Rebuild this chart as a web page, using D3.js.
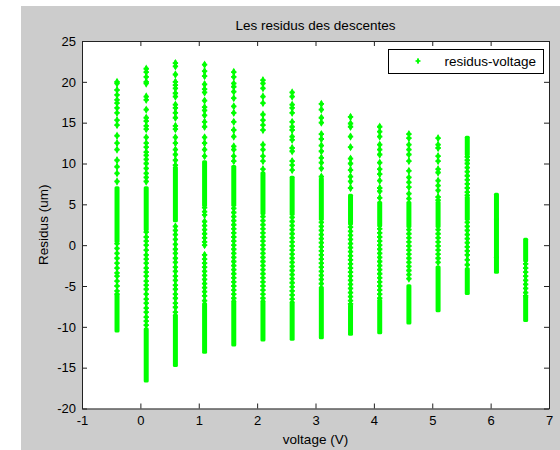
<!DOCTYPE html>
<html>
<head>
<meta charset="utf-8">
<script src="https://cdn.jsdelivr.net/npm/d3@7"></script>
<style>
  body { margin: 0; background: #fff; }
  text { font-family: "Liberation Sans", Arial, sans-serif; fill: #000; }
</style>
</head>
<body>
<div id="svg"></div>
<script>
// one column of residus per voltage step
const voltages = [-0.4, 0.1, 0.6, 1.1, 1.6, 2.1, 2.6, 3.1, 3.6, 4.1, 4.6, 5.1, 5.6, 6.1, 6.6]

// isolated points
const residusPoints = [
  [20.0, 19.8, 19.0, 18.4, 17.8, 17.4, 16.8, 16.2, 15.3, 14.7, 13.4, 12.5, 11.7, 10.4, 9.6, 8.8, 7.8,
   0.2, -0.4, -1.0, -1.6, -2.2, -2.8, -3.4, -3.8, -4.4, -5.0, -5.6, -6.0],
  [21.6, 21.2, 20.6, 20.0, 19.8, 18.2, 17.8, 16.6, 15.6, 15.2, 14.6, 14.2, 13.2, 12.5, 12.0, 11.4, 11.0, 10.5, 10.0, 9.4, 8.8, 8.3, 7.8,
   1.6, 1.0, 0.5, 0.0, -0.6, -1.2, -1.7, -2.2, -2.8, -3.3, -3.8, -4.4, -4.9, -5.4, -6.0, -6.6, -7.1, -7.7, -8.2, -8.8, -9.3, -9.8],
  [22.3, 21.9, 20.9, 20.0, 19.6, 19.2, 18.6, 18.2, 17.2, 16.8, 16.2, 15.6, 14.6, 14.2, 13.2, 12.5, 11.7, 11.1, 10.4, 9.8,
   2.3, 1.8, 1.3, 0.7, 0.1, -0.5, -1.0, -1.6, -2.1, -2.7, -3.2, -3.8, -4.3, -4.9, -5.4, -6.0, -6.5, -7.1, -7.6, -8.2],
  [22.1, 21.3, 20.7, 19.7, 19.1, 18.7, 17.7, 16.9, 16.5, 15.9, 15.1, 14.5, 13.2, 12.5, 11.7, 10.9,
   4.6, 4.1, 3.7, 2.9, 2.4, 1.9, 1.4, 0.9, 0.4, 0.0, -1.2, -1.7, -2.2, -2.7, -3.2, -3.7, -4.2, -4.7, -5.2, -5.7, -6.2, -6.8],
  [21.2, 20.6, 19.8, 19.4, 18.8, 18.0, 17.0, 16.2, 15.1, 14.1, 13.3, 12.1, 11.7, 10.9, 10.3,
   4.5, 4.0, 3.5, 3.0, 2.5, 2.0, 1.5, 1.0, 0.5, 0.0, -0.5, -1.0, -1.5, -2.0, -2.5, -3.0, -3.5, -4.0, -4.5, -5.0, -5.5, -6.0, -6.5],
  [20.2, 19.8, 19.2, 18.2, 17.4, 16.0, 15.3, 14.7, 14.1, 12.3, 11.7, 10.9, 10.3, 9.3,
   3.5, 3.0, 2.5, 2.0, 1.5, 1.0, 0.5, 0.0, -0.5, -1.0, -1.5, -2.0, -2.5, -3.0, -3.5, -4.0, -4.5, -5.0, -5.5, -6.0, -6.5],
  [18.7, 18.2, 17.2, 16.8, 16.2, 15.1, 14.5, 14.1, 13.3, 12.9, 11.9, 11.5, 10.3, 9.8, 9.2,
   3.4, 2.9, 2.4, 1.9, 1.4, 0.9, 0.4, -0.1, -0.6, -1.1, -1.6, -2.1, -2.6, -3.1, -3.6, -4.1, -4.6, -5.1, -5.6, -6.1, -6.6],
  [17.3, 16.6, 15.6, 15.0, 13.6, 13.0, 12.2, 11.5, 10.7, 10.1, 9.4, 8.4,
   2.8, 2.3, 1.8, 1.3, 0.8, 0.3, -0.2, -0.7, -1.2, -1.7, -2.2, -2.7, -3.2, -3.7, -4.2, -4.7],
  [15.7, 14.9, 14.5, 13.3, 12.0, 10.6, 10.0, 9.2, 8.4, 7.8, 7.0,
   2.2, 1.7, 1.2, 0.7, 0.2, -0.3, -0.8, -1.3, -1.8, -2.3, -2.8, -3.3, -3.8, -4.3, -4.8, -5.3, -5.8, -6.3, -6.8, -7.2],
  [14.5, 13.9, 13.3, 12.3, 11.7, 11.1, 10.1, 9.3, 8.7, 7.9, 7.0, 6.6, 5.8,
   2.0, 1.5, 1.0, 0.5, 0.0, -0.5, -1.0, -1.5, -2.0, -2.5, -3.0, -3.5, -4.0, -4.5, -5.0, -5.5, -6.0, -6.5],
  [13.6, 13.1, 12.3, 11.7, 11.1, 10.3, 9.1, 8.3, 7.7, 7.1, 6.3, 5.7,
   1.9, 1.4, 0.9, 0.4, -0.1, -0.6, -1.1, -1.6, -2.1, -2.6, -3.1, -3.6, -4.1],
  [13.1, 12.3, 11.9, 10.9, 10.3, 9.3, 8.9, 7.9, 7.3, 6.7, 5.9, 5.5,
   1.9, 1.4, 0.9, 0.4, -0.1, -0.6, -1.1, -1.6, -2.1],
  [10.8, 10.4, 10.0, 9.5, 9.0, 8.5, 8.0, 7.5, 7.0, 6.5, 6.1,
   2.8, 2.3, 1.8, 1.3, 0.8, 0.3, -0.2, -0.7, -1.2, -1.8, -2.4],
  [],
  [-2.3, -2.8, -3.3, -3.8, -4.3, -4.8, -5.3, -5.8, -6.2]
]

// runs where the points overlap into a solid bar: [low, high]
const residusRuns = [
  [[0.6, 6.9], [-10.4, -6.3]],
  [[2.0, 6.9], [-16.5, -10.4]],
  [[3.1, 9.4], [-14.6, -8.7]],
  [[5.0, 10.1], [-13.0, -7.3]],
  [[5.0, 9.5], [-12.1, -7.0]],
  [[4.0, 8.7], [-11.5, -7.0]],
  [[3.9, 8.2], [-11.4, -7.1]],
  [[3.3, 8.0], [-11.2, -5.3]],
  [[2.7, 6.0], [-10.8, -7.5]],
  [[2.5, 5.1], [-10.6, -6.9]],
  [[2.4, 5.1], [-9.4, -5.1]],
  [[2.4, 5.1], [-7.9, -2.8]],
  [[11.2, 13.1], [3.3, 5.7], [-5.8, -3.0]],
  [[3.3, 6.1], [-1.4, 3.1], [-3.2, -1.6]],
  [[-1.8, 0.6], [-9.1, -6.5]]
]

const xTicks = [-1, 0, 1, 2, 3, 4, 5, 6, 7]
const yTicks = [-20, -15, -10, -5, 0, 5, 10, 15, 20, 25]

const W = 560, H = 450
const green = '#00ff00'

const svg = d3.select('#svg').append('svg')
    .attr('width', W)
    .attr('height', H)

// matlab figure background
svg.append('rect')
    .attr('x', 21).attr('y', 6)
    .attr('width', W - 21).attr('height', H - 6)
    .attr('fill', '#cccccc')

const x = d3.scaleLinear().domain([-1, 7]).range([82, 549])
const y = d3.scaleLinear().domain([-20, 25]).range([408.5, 41])

svg.append('rect')
    .attr('x', x(-1)).attr('y', y(25))
    .attr('width', x(7) - x(-1)).attr('height', y(-20) - y(25))
    .attr('fill', '#fff')

// data
const cols = svg.append('g').selectAll('g')
    .data(voltages)
    .enter()
    .append('g')

cols.selectAll('rect')
    .data((v, i) => residusRuns[i].map(r => ({v: v, lo: r[0], hi: r[1]})))
    .enter()
    .append('rect')
    .attr('x', d => x(d.v) - 2.5)
    .attr('y', d => y(d.hi) - 2.5)
    .attr('width', 5)
    .attr('height', d => y(d.lo) - y(d.hi) + 5)
    .attr('rx', 1.5)
    .attr('fill', green)

const marker = d3.symbol().type(d3.symbolCross).size(16)
const blob = d3.symbol().type(d3.symbolDiamond).size(20)

const pts = cols.selectAll('g.pt')
    .data((v, i) => residusPoints[i].map(r => ({v: v, r: r})))
    .enter()
    .append('g')
    .attr('class', 'pt')
    .attr('transform', d => 'translate(' + x(d.v) + ',' + y(d.r) + ')')
pts.append('path').attr('d', marker).attr('fill', green)
pts.append('path').attr('d', blob).attr('fill', green)

// axes, ticks inside on the four sides
const axisStyle = g => {
    g.selectAll('path.domain').attr('stroke', '#222')
    g.selectAll('.tick line').attr('stroke', '#222')
    g.selectAll('text').attr('font-size', '13px').attr('fill', '#000')
        .attr('font-family', '"Liberation Sans", Arial, sans-serif')
}
const plain = d => String(d)

svg.append('g')
    .attr('transform', 'translate(0,' + y(-20) + ')')
    .call(d3.axisBottom(x).tickValues(xTicks).tickFormat(plain).tickSizeInner(-5).tickSizeOuter(0).tickPadding(7))
    .call(axisStyle)

svg.append('g')
    .attr('transform', 'translate(' + x(-1) + ',0)')
    .call(d3.axisLeft(y).tickValues(yTicks).tickFormat(plain).tickSizeInner(-5).tickSizeOuter(0).tickPadding(6))
    .call(axisStyle)

svg.append('g')
    .attr('transform', 'translate(0,' + y(25) + ')')
    .call(d3.axisTop(x).tickValues(xTicks).tickSizeInner(-5).tickSizeOuter(0).tickFormat(''))
    .call(axisStyle)

svg.append('g')
    .attr('transform', 'translate(' + x(7) + ',0)')
    .call(d3.axisRight(y).tickValues(yTicks).tickSizeInner(-5).tickSizeOuter(0).tickFormat(''))
    .call(axisStyle)

// titles
svg.append('text')
    .attr('x', (x(-1) + x(7)) / 2).attr('y', 29.5)
    .attr('text-anchor', 'middle')
    .attr('font-size', '13.5px')
    .text('Les residus des descentes')

svg.append('text')
    .attr('x', (x(-1) + x(7)) / 2).attr('y', 444)
    .attr('text-anchor', 'middle')
    .attr('font-size', '13.5px')
    .text('voltage (V)')

svg.append('text')
    .attr('transform', 'translate(48,' + (y(-20) + y(25)) / 2 + ') rotate(-90)')
    .attr('text-anchor', 'middle')
    .attr('font-size', '13.5px')
    .text('Residus (um)')

// legend
const legend = svg.append('g').attr('transform', 'translate(388.5,49.5)')
legend.append('rect')
    .attr('width', 155).attr('height', 24)
    .attr('fill', '#fff').attr('stroke', '#000')
legend.append('path')
    .attr('transform', 'translate(29.5,11.5)')
    .attr('d', d3.symbol().type(d3.symbolCross).size(14)).attr('fill', green)
legend.append('path')
    .attr('transform', 'translate(29.5,11.5)')
    .attr('d', d3.symbol().type(d3.symbolDiamond).size(10)).attr('fill', green)
legend.append('text')
    .attr('x', 56).attr('y', 16)
    .attr('font-size', '13.5px')
    .text('residus-voltage')
</script>
</body>
</html>
